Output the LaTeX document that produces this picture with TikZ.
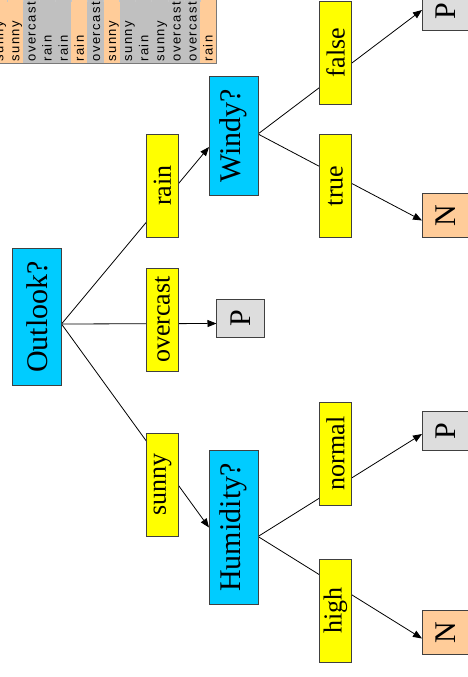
\documentclass[tikz,border=0pt]{standalone}
\usepackage{fontspec}
\setmainfont{Liberation Serif}
\newfontfamily\tabfont[LetterSpace=11]{Liberation Sans}
\usetikzlibrary{arrows.meta,backgrounds}
\definecolor{nodeblue}{HTML}{00CCFF}
\definecolor{valyellow}{HTML}{FFFF00}
\definecolor{leafgray}{HTML}{DDDDDD}
\definecolor{leaforange}{HTML}{FFCC99}
\definecolor{tabgray}{HTML}{C0C0C0}
\definecolor{edgegray}{HTML}{404040}
\begin{document}
\begin{tikzpicture}[x=1pt,y=-1pt,
  box/.style={draw=edgegray, line width=0.8pt, rotate=90, inner sep=0pt, outer sep=0pt},
  attr/.style={box, fill=nodeblue, minimum height=49pt, inner xsep=12.5pt, font=\fontsize{30}{30}\selectfont},
  val/.style={box, fill=valyellow, minimum width=103pt, minimum height=32pt, font=\fontsize{26}{26}\selectfont},
  leaf/.style={box, minimum height=48pt, inner xsep=11pt, font=\fontsize{30}{30}\selectfont},
  leafP/.style={leaf, fill=leafgray},
  leafN/.style={leaf, fill=leaforange},
  conn/.style={draw=black, line width=0.8pt},
  arr/.style={conn, -{Triangle[length=9pt,width=7pt]}},
  tabtext/.style={rotate=90, anchor=base west, inner sep=0pt, font=\tabfont\fontsize{13}{13}\selectfont},
  tN/.style={fill=leaforange},
  tP/.style={fill=tabgray}
]
\useasboundingbox (0,0) rectangle (468,677);

% data table (cropped)
\begin{scope}
\clip (0,0) rectangle (468,677);
\foreach \i/\t/\c in {1/sunny/tN,2/sunny/tN,3/overcast/tP,4/rain/tP,5/rain/tP,6/rain/tN,7/overcast/tP,8/sunny/tN,9/sunny/tP,10/rain/tP,11/sunny/tP,12/overcast/tP,13/overcast/tP,14/rain/tN}{
  \pgfmathsetmacro\xl{-9.2+16.1*(\i-1)}
  \path[\c] (\xl,-3) rectangle ++(16.1,66.3);
  \draw[gray!45, line width=0.8pt] (\xl,-3) -- ++(0,5.5);
  \node[tabtext] (row\i) at (\xl+12.6,61.7) {\t};
}
\draw[edgegray!70, line width=0.8pt] (-10,63.3) -- (216.4,63.3) -- (216.4,-3);
\end{scope}

% nodes
\node[attr] (outlook) at (37,317) {Outlook?};
\node[attr] (humid) at (233.5,527.5) {Humidity?};
\node[attr] (windy) at (233.5,136) {Windy?};
\node[val] (sunny) at (162.5,484.5) {sunny};
\node[val] (overcast) at (162.5,319.5) {overcast};
\node[val] (rain) at (162.5,185.7) {rain};
\node[val] (high) at (335.5,610.5) {high};
\node[val] (normal) at (335.5,453.5) {normal};
\node[val] (true) at (335.5,186) {true};
\node[val] (false) at (335.5,52.5) {false};
\node[leafP] (p1) at (240.5,318.5) {P};
\node[leafP] (p2) at (446,431) {P};
\node[leafN] (n2) at (446,632.5) {N};
\node[leafP] (p3) at (446,11.5) {P};
\node[leafN] (n3) at (446,215.5) {N};

% connectors (behind the boxes)
\begin{pgfonlayer}{background}
\fill[white] (0,0) rectangle (468,677);
\draw[arr] ([yshift=-7pt]outlook.south) -- (humid.north);
\draw[arr] ([yshift=-7pt]outlook.south) -- ([yshift=-5pt]p1.north);
\draw[arr] ([yshift=-7pt]outlook.south) -- ([yshift=-11pt]windy.north);
\draw[arr] ([yshift=-9pt]humid.south) -- ([yshift=-3pt]p2.north);
\draw[arr] ([yshift=-9pt]humid.south) -- ([yshift=-6pt]n2.north);
\draw[arr] ([yshift=2pt]windy.south) -- ([yshift=1.5pt]p3.north);
\draw[arr] ([yshift=2pt]windy.south) -- ([yshift=-5pt]n3.north);
\end{pgfonlayer}
\end{tikzpicture}
\end{document}
